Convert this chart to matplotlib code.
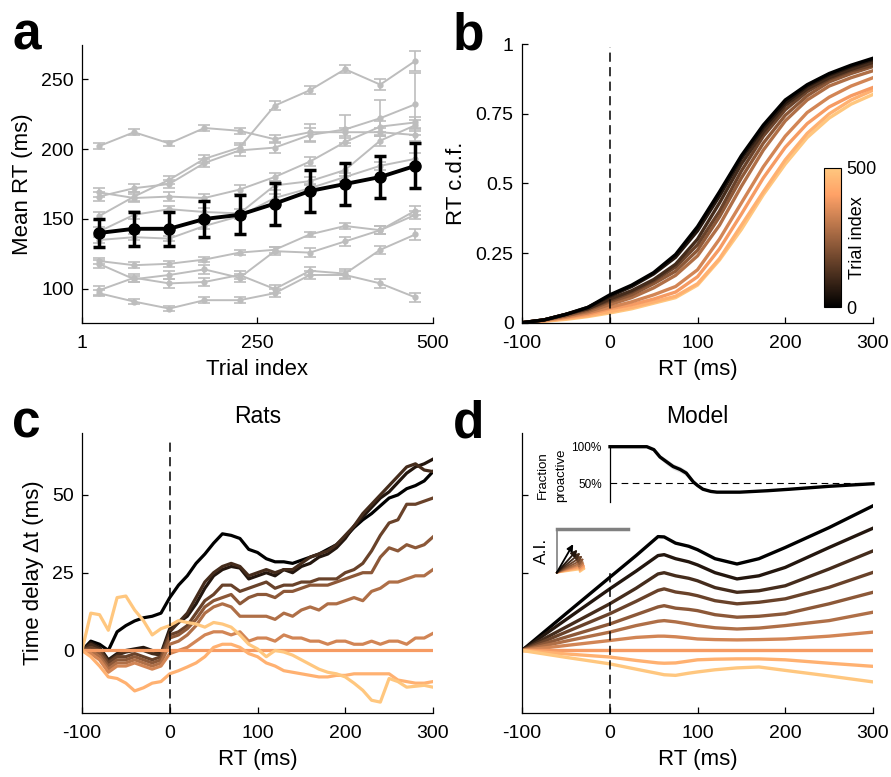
import numpy as np
import matplotlib
matplotlib.use('Agg')
import matplotlib.pyplot as plt
from matplotlib.cm import ScalarMappable
from matplotlib.colors import Normalize

plt.rcParams['font.family'] = ['Liberation Sans', 'DejaVu Sans']
plt.rcParams['axes.unicode_minus'] = False

# ---------------- Panel a : mean RT vs trial index ----------------
trial_bins = [25, 75, 125, 175, 225, 275, 325, 375, 425, 475]
mean_rt = [140, 143, 143, 150, 153, 161, 170, 175, 180, 188]
mean_rt_err = [10, 12, 12, 13, 14, 15, 15, 15, 15, 16]
rat_rt = [
    [202, 212, 204, 215, 213, 207, 212, 212, 212, 210],
    [152, 166, 178, 193, 201, 231, 242, 257, 246, 263],
    [166, 172, 175, 190, 199, 201, 210, 214, 222, 232],
    [169, 165, 166, 165, 171, 180, 191, 205, 216, 219],
    [141, 153, 157, 155, 154, 174, 177, 185, 206, 217],
    [135, 137, 136, 145, 152, 165, 172, 180, 188, 193],
    [120, 117, 118, 121, 126, 128, 139, 145, 142, 156],
    [118, 107, 110, 114, 108, 127, 126, 134, 142, 153],
    [99, 108, 104, 105, 110, 100, 113, 111, 128, 139],
    [97, 91, 86, 92, 92, 97, 110, 110, 104, 94],
]
rat_rt_err = [
    [2, 2, 2, 2, 2, 3, 6, 3, 3, 4],
    [3, 3, 3, 3, 3, 3, 3, 3, 4, 7],
    [3, 3, 3, 3, 4, 4, 5, 10, 13, 22],
    [3, 3, 3, 3, 3, 3, 3, 3, 4, 4],
    [3, 3, 2, 3, 3, 3, 3, 4, 4, 4],
    [2, 2, 2, 2, 2, 3, 3, 3, 3, 4],
    [2, 2, 2, 2, 2, 2, 2, 2, 3, 3],
    [3, 2, 3, 3, 3, 3, 3, 3, 3, 3],
    [3, 3, 3, 3, 3, 3, 3, 3, 3, 4],
    [2, 2, 2, 2, 2, 3, 3, 3, 3, 3],
]

# ---------------- Panel b : RT c.d.f. ----------------
cdf_rt = [-100, -75, -50, -25, 0, 25, 50, 75, 100, 125, 150, 175, 200, 225, 250, 275, 300]
cdf_vals = [
    [0, 0.010, 0.030, 0.055, 0.100, 0.135, 0.180, 0.245, 0.345, 0.470, 0.600, 0.710, 0.800, 0.855, 0.895, 0.925, 0.950],
    [0, 0.010, 0.030, 0.055, 0.095, 0.130, 0.175, 0.235, 0.330, 0.455, 0.590, 0.700, 0.790, 0.850, 0.890, 0.920, 0.945],
    [0, 0.010, 0.030, 0.050, 0.085, 0.115, 0.155, 0.210, 0.300, 0.430, 0.570, 0.685, 0.780, 0.840, 0.880, 0.910, 0.935],
    [0, 0.010, 0.030, 0.050, 0.080, 0.110, 0.150, 0.200, 0.280, 0.400, 0.545, 0.670, 0.765, 0.830, 0.875, 0.905, 0.925],
    [0, 0.010, 0.025, 0.045, 0.075, 0.100, 0.140, 0.185, 0.260, 0.380, 0.520, 0.645, 0.745, 0.815, 0.865, 0.895, 0.920],
    [0, 0.010, 0.025, 0.040, 0.065, 0.090, 0.125, 0.170, 0.240, 0.350, 0.490, 0.620, 0.725, 0.800, 0.850, 0.880, 0.905],
    [0, 0.008, 0.020, 0.035, 0.055, 0.075, 0.100, 0.130, 0.190, 0.300, 0.430, 0.560, 0.670, 0.755, 0.810, 0.850, 0.880],
    [0, 0.008, 0.018, 0.030, 0.050, 0.065, 0.085, 0.110, 0.165, 0.265, 0.390, 0.520, 0.630, 0.715, 0.775, 0.815, 0.845],
    [0, 0.006, 0.015, 0.025, 0.040, 0.055, 0.075, 0.095, 0.140, 0.230, 0.350, 0.470, 0.585, 0.680, 0.750, 0.800, 0.835],
    [0, 0.005, 0.012, 0.022, 0.035, 0.050, 0.070, 0.090, 0.135, 0.225, 0.335, 0.460, 0.570, 0.665, 0.735, 0.785, 0.820],
]

# ---------------- Panel c : rats, time delay ----------------
delay_rt = list(range(-100, 301, 10))
rat_delay = [
    [0, 3, 2, 0, 6, 8, 9.5, 10.5, 11, 12, 17, 21, 24, 28, 31, 34.5, 37.5, 37, 36, 32.5, 31.5,
     29.5, 28.5, 28.5, 28, 29, 30, 31, 32.5, 34, 36.5, 39.5, 42, 44, 46.5, 49, 50, 52, 53, 54.5, 57.5],
    [0, 2.5, 1, -3, -1, 0, 0.5, 1, 0, -1, 7, 9, 11, 15, 20, 24, 26, 27, 26.5, 23, 24,
     25, 24, 26, 25, 27, 28, 30, 31, 33, 36, 40, 43, 46, 49, 51, 54, 57, 59, 60, 61.5],
    [0, 2, 0.5, -3.5, -1.5, -0.5, 0, 0, -1, -1.5, 6, 9, 12, 17, 22, 25, 27, 28, 27, 24, 25,
     26, 25, 26, 26, 28, 30, 31, 32, 34, 37, 40, 44, 47, 50, 53, 56, 59, 60, 58, 57.5],
    [0, 1, 0, -4, -2, -2, -1, -2, -3, -2, 5, 6, 8, 12, 16, 18, 21, 21, 19, 20, 21,
     22, 20, 21, 21, 22, 22, 23, 23, 23, 25, 26, 28, 32, 37, 41, 42, 47, 47, 48, 49],
    [0, 0, -1, -5, -3, -3, -2, -3, -4, -3, 4, 5, 7, 10, 14, 16, 17, 18, 15, 17, 18,
     18, 17, 19, 19, 20, 21, 21, 21, 22, 23, 24, 25, 25, 30, 33, 32, 34, 33, 34, 36.5],
    [0, 0, -2, -6, -4, -4, -3, -4, -5, -4, 2, 3, 5, 8, 12, 14, 15, 14, 11, 11, 11,
     11, 10, 12, 11, 13, 14, 13, 15, 15, 16, 17, 16, 19, 20, 22, 22, 23, 24, 24, 26],
    [0, -1, -3, -7, -5, -5, -4, -5, -6, -5, -1, 0, 1, 3, 5, 6, 6, 5, 6, 3, 4,
     4, 3, 5, 4, 4, 3, 3, 2, 3, 3, 2, 2, 3, 2, 3, 3, 2, 4, 4, 5.5],
    [0] * 41,
    [0, -2, -5, -8.5, -9, -10.5, -13, -12, -10.5, -10, -7.5, -6.5, -5.3, -4, -2, 1, 2, 2, 1, -1, -2,
     -4, -5, -6.5, -7, -7.5, -8, -8.5, -8.5, -8, -8, -7.5, -7.5, -7.5, -7.5, -7.5, -9.5, -10, -10.5, -10.5, -10],
    [0, 12, 11.5, 6.5, 17, 17.5, 13, 9.6, 5, 7, 8, 9.6, 9, 8.5, 7.5, 9, 8.5, 7.5, 5, 2, 0.5,
     -2, 0, -0.5, -1.5, -3, -4.5, -6, -7, -7.5, -8.5, -10.5, -12.8, -16, -16.6, -9, -10, -11.8, -11.5, -11.2, -11.8],
]

# ---------------- Panel d : model ----------------
model_rt = [-100, -50, 0, 30, 55, 62, 75, 90, 100, 120, 145, 170, 200, 250, 300]
model_delay = [
    [0, 11.8, 23.5, 30.5, 36.6, 36.5, 34.5, 33.5, 32.4, 29.5, 27.8, 29.5, 33.1, 39.5, 46.5],
    [0, 9.9, 19.8, 25.5, 30.5, 30.8, 29.5, 28.5, 27.5, 25.0, 23.0, 24.0, 26.7, 33.1, 39.3],
    [0, 7.5, 15.0, 20.0, 24.6, 25.0, 24.0, 23.2, 22.4, 20.2, 18.7, 19.2, 20.8, 26.2, 32.0],
    [0, 5.9, 11.8, 15.8, 19.3, 19.8, 18.8, 18.2, 17.6, 16.0, 15.0, 15.5, 16.6, 20.3, 25.1],
    [0, 4.3, 8.5, 11.5, 14.0, 14.4, 13.6, 13.2, 12.8, 11.5, 10.7, 11.0, 11.8, 15.0, 18.7],
    [0, 3.0, 5.9, 8.0, 9.4, 9.6, 9.2, 8.5, 8.0, 7.3, 6.9, 7.2, 8.0, 9.6, 12.3],
    [0, 1.6, 3.2, 4.2, 4.6, 4.6, 4.4, 4.0, 3.7, 3.5, 3.4, 3.5, 3.7, 4.6, 5.9],
    [0, 0, 0, 0, 0, 0, 0, 0, 0, 0, 0, 0, 0, 0, 0],
    [0, -1.1, -2.1, -3.2, -4.0, -4.1, -4.0, -3.4, -3.0, -2.8, -2.7, -2.7, -3.0, -4.1, -5.1],
    [0, -2.2, -4.3, -6.0, -7.4, -7.8, -8.0, -7.3, -6.9, -6.2, -5.6, -5.3, -6.4, -8.2, -10.1],
]
frac_t = [0, 42, 50, 57, 65, 72, 80, 87, 95, 100, 106, 115, 122, 148, 180, 205, 250, 300]
frac_p = [100, 100, 96, 86, 79, 73, 69, 64, 52, 47, 42, 39, 38, 38, 40, 42, 46, 49.5]
frac_sem = [0, 0, 2, 3, 4, 4, 4, 4, 3, 2, 1, 0.5, 0.5, 0.5, 0.5, 0.5, 0.5, 0.5]
ai_angle = [60, 48, 40, 33, 27, 22, 18, 14, 11, 8]
ai_len = [33, 31, 31, 31, 31, 30, 30, 30, 30, 30]

# ---------------- figure ----------------
W, H = 891, 777
fig = plt.figure(figsize=(W / 100, H / 100), dpi=100)


def rect(l, t, r, b):
    return [l / W, 1 - b / H, (r - l) / W, (b - t) / H]


def style(ax):
    for s in ['top', 'right']:
        ax.spines[s].set_visible(False)
    for s in ['left', 'bottom']:
        ax.spines[s].set_linewidth(0.9)
    ax.tick_params(direction='in', length=4, width=0.9, labelsize=14)
    ax.tick_params(axis='x', pad=9)
    ax.tick_params(axis='y', pad=6)


n = 10
colors = [plt.cm.copper(i / (n - 1)) for i in range(n)]
gray = '#bdbdbd'
LAB = 16

# ---- a ----
axa = fig.add_axes(rect(82, 45, 433, 323))
style(axa)
for vals, errs in zip(rat_rt, rat_rt_err):
    axa.errorbar(trial_bins, vals, yerr=errs, color=gray, lw=1.4, marker='o', ms=3.5,
                 capsize=4, elinewidth=1.2, capthick=1.2)
axa.errorbar(trial_bins, mean_rt, yerr=mean_rt_err, color='k', lw=2.8, marker='o', ms=8,
             capsize=4.5, elinewidth=2.5, capthick=2.5, zorder=5)
axa.set_xlim(1, 500)
axa.set_ylim(75.7, 274.3)
axa.set_xticks([1, 250, 500])
axa.set_yticks([100, 150, 200, 250])
axa.set_xlabel('Trial index', fontsize=LAB, labelpad=5)
axa.set_ylabel('Mean RT (ms)', fontsize=LAB, labelpad=6)

# ---- b ----
axb = fig.add_axes(rect(522, 44.3, 873, 322.7))
style(axb)
for i in reversed(range(n)):
    axb.plot(cdf_rt, cdf_vals[i], color=colors[i], lw=2.4)
axb.plot([0, 0], [0, 0.99], color='k', lw=1.1, dashes=(6, 3.5))
axb.set_xlim(-100, 300)
axb.set_ylim(0, 1)
axb.set_xticks([-100, 0, 100, 200, 300])
axb.set_yticks([0, 0.25, 0.5, 0.75, 1])
axb.set_yticklabels(['0', '0.25', '0.5', '0.75', '1'])
axb.set_xlabel('RT (ms)', fontsize=LAB, labelpad=5)
axb.set_ylabel('RT c.d.f.', fontsize=LAB, labelpad=6)

cax = fig.add_axes(rect(824, 168, 841, 307))
cb = fig.colorbar(ScalarMappable(norm=Normalize(0, 500), cmap='copper'), cax=cax, ticks=[0, 500])
cb.outline.set_linewidth(0.8)
cax.tick_params(length=0, labelsize=13, pad=4)
cb.set_label('Trial index', fontsize=13)
cax.yaxis.set_label_coords(1.5, 0.5)

# ---- c ----
axc = fig.add_axes(rect(82, 432.7, 433, 712.7))
style(axc)
for i in range(n):
    axc.plot(delay_rt, rat_delay[i], color=colors[i], lw=2.3)
axc.plot([0, 0], [-20, 68], color='k', lw=1.1, dashes=(6, 3.5))
axc.set_xlim(-100, 300)
axc.set_ylim(-20, 70)
axc.set_xticks([-100, 0, 100, 200, 300])
axc.set_yticks([0, 25, 50])
axc.set_xlabel('RT (ms)', fontsize=LAB, labelpad=5)
axc.set_ylabel('Time delay \u0394t (ms)', fontsize=LAB, labelpad=6)
axc.set_title('Rats', fontsize=16.5, pad=7)

# ---- d ----
axd = fig.add_axes(rect(522, 432.7, 873, 712.7))
style(axd)
for i in range(n):
    axd.plot(model_rt, model_delay[i], color=colors[i], lw=2.4)
axd.plot([0, 0], [-20, 25], color='k', lw=1.1, dashes=(6, 3.5))
axd.set_xlim(-100, 300)
axd.set_ylim(-20, 70)
axd.set_xticks([-100, 0, 100, 200, 300])
axd.set_yticks([0, 25, 50])
axd.set_yticklabels([])
axd.set_xlabel('RT (ms)', fontsize=LAB, labelpad=5)
axd.set_title('Model', fontsize=16.5, pad=7)

# inset: fraction proactive
axf = fig.add_axes(rect(610, 446.7, 873, 501.7))
axf.patch.set_visible(False)
for s in ['top', 'right', 'bottom']:
    axf.spines[s].set_visible(False)
axf.spines['left'].set_linewidth(0.9)
fp = np.array(frac_p)
fs = np.array(frac_sem)
axf.fill_between(frac_t, fp - fs, fp + fs, color='#e0e0e0', lw=0)
axf.plot([0, 300], [50, 50], color='k', lw=0.8, dashes=(6, 4))
axf.plot(frac_t, frac_p, color='k', lw=2.4, clip_on=False)
axf.set_xlim(0, 300)
axf.set_ylim(25, 100)
axf.set_xticks([])
axf.set_yticks([50, 100])
axf.set_yticklabels(['50%', '100%'])
axf.tick_params(axis='y', length=0, labelsize=8.5, pad=6)
fig.text(542.5 / W, 1 - 475 / H, 'Fraction', rotation=90, ha='center', va='center', fontsize=9.5)
fig.text(561 / W, 1 - 475 / H, 'proactive', rotation=90, ha='center', va='center', fontsize=9.5)

# inset: A.I. arrows
axi = fig.add_axes(rect(556.7, 529.3, 628.3, 572.7))
axi.patch.set_visible(False)
for s in ['right', 'bottom']:
    axi.spines[s].set_visible(False)
axi.spines['left'].set_color('#808080')
axi.spines['left'].set_linewidth(1.2)
axi.spines['top'].set_color('#808080')
axi.spines['top'].set_linewidth(2.5)
axi.set_xticks([])
axi.set_yticks([])
axi.set_xlim(0, 71.6)
axi.set_ylim(0, 43.4)
for i in reversed(range(n)):
    a = np.deg2rad(ai_angle[i])
    axi.annotate('', xy=(ai_len[i] * np.cos(a), ai_len[i] * np.sin(a)), xytext=(0, 0),
                 arrowprops=dict(arrowstyle='-|>', color=colors[i], lw=1.3,
                                 mutation_scale=9, shrinkA=0, shrinkB=0))
fig.text(541 / W, 1 - 551 / H, 'A.I.', rotation=90, ha='center', va='center', fontsize=12.5)

# panel letters
for lab, x, y in [('a', 12, 50), ('b', 453, 50), ('c', 12, 438), ('d', 453, 438)]:
    fig.text(x / W, 1 - y / H, lab, fontsize=37, fontweight='bold', ha='left', va='baseline')

fig.savefig('out.png', dpi=100)
